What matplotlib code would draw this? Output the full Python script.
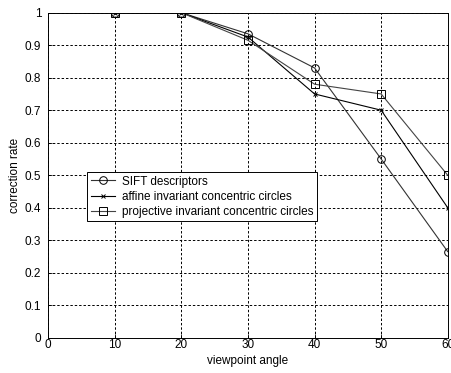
import matplotlib.pyplot as plt

angles = [10, 20, 30, 40, 50, 60]
sift = [1.0, 1.0, 0.935, 0.83, 0.55, 0.265]
affine = [1.0, 1.0, 0.925, 0.75, 0.70, 0.40]
projective = [1.0, 1.0, 0.915, 0.78, 0.75, 0.50]

plt.rcParams['font.family'] = ['Liberation Sans', 'DejaVu Sans']
plt.rcParams['font.size'] = 8.5

fig = plt.figure(figsize=(4.51, 3.73), dpi=100)
ax = fig.add_axes([48.3 / 451, 1 - 337.7 / 373, (447.7 - 48.3) / 451, (337.7 - 12.7) / 373])

ax.plot(angles, sift, color='#333333', lw=0.8, marker='o', ms=5.5, mfc='none', mec='black', mew=0.7,
        label='SIFT descriptors')
ax.plot(angles, affine, color='black', lw=0.8, marker='x', ms=3.5, mec='black', mew=0.7,
        label='affine invariant concentric circles')
ax.plot(angles, projective, color='#444444', lw=0.8, marker='s', ms=5.5, mfc='none', mec='black', mew=0.7,
        label='projective invariant concentric circles')

ax.set_xlim(0, 60)
ax.set_ylim(0, 1)
ax.set_xticks(range(0, 61, 10))
ax.set_yticks([i / 10 for i in range(11)])
ax.set_yticklabels(['0', '0.1', '0.2', '0.3', '0.4', '0.5', '0.6', '0.7', '0.8', '0.9', '1'])
ax.grid(True, color='black', ls=(0, (2.5, 2)), lw=0.7)
ax.tick_params(direction='in', length=3, width=0.6, labelsize=8.5)
ax.tick_params(axis='y', pad=5)
ax.tick_params(axis='x', pad=1)
for s in ax.spines.values():
    s.set_linewidth(0.7)

ax.set_xlabel('viewpoint angle', labelpad=3)
ax.set_ylabel('correction rate', labelpad=3)

leg = ax.legend(loc='upper left', bbox_to_anchor=((87 - 48.3) / 399.4, (337.7 - 172) / 325),
                fancybox=False, edgecolor='black', framealpha=1, borderpad=0.3,
                labelspacing=0.27, handlelength=2.1, handletextpad=0.6, borderaxespad=0,
                fontsize=8.5)
leg.get_frame().set_linewidth(0.7)

fig.savefig('out.png', dpi=100)
